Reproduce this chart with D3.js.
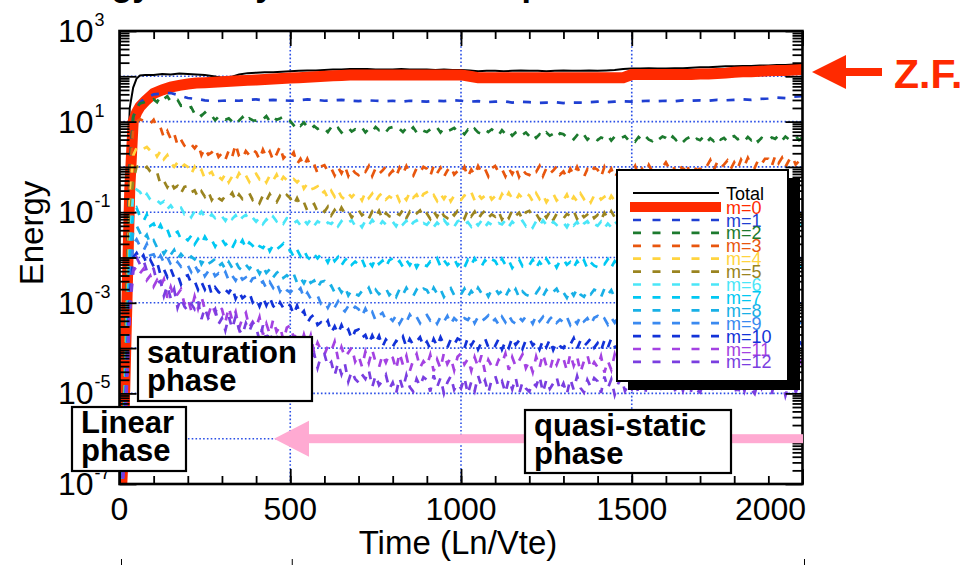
<!DOCTYPE html>
<html>
<head>
<meta charset="utf-8">
<script src="https://cdn.jsdelivr.net/npm/d3@7/dist/d3.min.js"></script>
<style>
  html, body { margin: 0; padding: 0; background: #fff; }
  svg { display: block; }
  text { font-family: "Liberation Sans", Arial, Helvetica, sans-serif; }
</style>
</head>
<body>
<svg id="chart" width="969" height="565"></svg>
<script>
// ---- sample times (Ln/Vte) ----
// smooth diagnostics (Total, m=0, m=1) are stored coarsely
const smoothTimes = [0, 10, 20, 30, 40, 50, 60, 75,
  100, 125, 150, 175, 200, 225, 250, 275, 300, 325, 350, 375, 400, 425, 450, 475,
  500, 525, 550, 575, 600, 625, 650, 675, 700, 725, 750, 775, 800, 825, 850, 875,
  900, 925, 950, 975, 1000, 1025, 1050, 1075, 1100, 1125, 1150, 1175, 1200, 1225, 1250, 1275,
  1300, 1325, 1350, 1375, 1400, 1425, 1450, 1475, 1500, 1525, 1550, 1575, 1600, 1625, 1650, 1675,
  1700, 1725, 1750, 1775, 1800, 1825, 1850, 1875, 1900, 1925, 1950, 1975, 2000];
// fluctuating modes are output every 10 Ln/Vte
const sampleTimes = d3.range(0, 2001, 10);

// ---- axis ticks ----
const xTickLabels = [0, 500, 1000, 1500, 2000];
const xGridLines = [500, 1000, 1500];
const yLabelExponents = [3, 1, -1, -3, -5, -7];
const yGridExponents = [2, 1, 0, -1, -2, -3, -4, -5, -6];

// ---- series (log10 of energy) ----
const seriesNames = ["Total", "m=0", "m=1", "m=2", "m=3", "m=4", "m=5", "m=6", "m=7", "m=8", "m=9", "m=10", "m=11", "m=12"];
const seriesColors = ["#000000", "#ff2a00", "#1f3fd2", "#1c7a2e", "#e8560e", "#ffd43f", "#9a8420",
  "#4ae6f8", "#00c8f2", "#18b0e6", "#3a8af0", "#1232d8", "#a442e2", "#7a3ee0"];

const logTotal = [-7.5, -5.0, -1.0, 1.3, 1.75, 1.95, 2.02, 2.03,
  2.03, 2.05, 2.04, 2.06, 2.05, 2.04, 2.03, 2.0, 1.97, 1.98, 2.04, 2.07, 2.08, 2.09, 2.09, 2.1,
  2.11, 2.12, 2.13, 2.13, 2.14, 2.15, 2.15, 2.16, 2.16, 2.16, 2.15, 2.15, 2.15, 2.16, 2.15, 2.15,
  2.15, 2.14, 2.15, 2.14, 2.14, 2.13, 2.11, 2.12, 2.12, 2.11, 2.12, 2.13, 2.12, 2.12, 2.11, 2.12,
  2.13, 2.12, 2.12, 2.13, 2.12, 2.13, 2.14, 2.16, 2.17, 2.17, 2.18, 2.17, 2.17, 2.18, 2.18, 2.19,
  2.2, 2.2, 2.21, 2.22, 2.22, 2.23, 2.23, 2.24, 2.24, 2.25, 2.25, 2.26, 2.26];
const logM0 = [-8.0, -6.5, -3.5, -0.5, 1.0, 1.2, 1.33, 1.45,
  1.62, 1.7, 1.76, 1.8, 1.83, 1.85, 1.86, 1.87, 1.88, 1.89, 1.9, 1.91, 1.92, 1.93, 1.94, 1.95,
  1.96, 1.97, 1.98, 1.99, 2.0, 2.01, 2.02, 2.03, 2.03, 2.03, 2.03, 2.03, 2.03, 2.03, 2.03, 2.03,
  2.03, 2.03, 2.03, 2.03, 2.03, 2.0, 1.97, 1.97, 1.97, 1.97, 1.97, 1.97, 1.97, 1.97, 1.97, 1.97,
  1.97, 1.97, 1.97, 1.97, 1.97, 1.97, 1.97, 1.97, 2.04, 2.04, 2.04, 2.04, 2.04, 2.04, 2.04, 2.04,
  2.05, 2.05, 2.06, 2.07, 2.09, 2.1, 2.1, 2.11, 2.12, 2.13, 2.13, 2.14, 2.15];
const logM1 = [-8.0, -6.0, -3.0, 0.0, 1.1, 1.3, 1.42, 1.52,
  1.6, 1.62, 1.63, 1.58, 1.52, 1.5, 1.47, 1.45, 1.46, 1.47, 1.46, 1.48, 1.49, 1.47, 1.48, 1.47,
  1.46, 1.47, 1.49, 1.48, 1.46, 1.47, 1.48, 1.46, 1.45, 1.47, 1.46, 1.45, 1.46, 1.44, 1.46, 1.45,
  1.44, 1.46, 1.45, 1.47, 1.46, 1.44, 1.45, 1.43, 1.44, 1.45, 1.42, 1.44, 1.43, 1.41, 1.42, 1.43,
  1.41, 1.42, 1.42, 1.43, 1.44, 1.43, 1.44, 1.45, 1.44, 1.45, 1.46, 1.45, 1.46, 1.45, 1.47, 1.46,
  1.47, 1.46, 1.48, 1.47, 1.48, 1.49, 1.48, 1.5, 1.51, 1.53, 1.52, 1.55, 1.56];

const logM2 = [-8.0, -6.0, -3.0, 0.0, 1.1, 1.3, 1.4, 1.42, 1.45, 1.44,
  1.49, 1.43, 1.56, 1.5, 1.56, 1.44, 1.48, 1.48, 1.35, 1.36,
  1.29, 1.32, 1.17, 1.22, 1.13, 1.2, 1.11, 1.13, 1.03, 1.11,
  1.11, 1.04, 1.07, 1.0, 1.09, 1.02, 1.1, 0.99, 1.07, 1.03,
  1.02, 1.08, 1.05, 1.12, 1.01, 1.1, 1.04, 1.07, 1.11, 1.02,
  1.01, 0.92, 1.0, 0.91, 0.98, 0.88, 0.83, 0.9, 0.84, 0.89,
  0.85, 0.77, 0.88, 0.8, 0.86, 0.76, 0.83, 0.87, 0.78, 0.83,
  0.8, 0.87, 0.76, 0.84, 0.78, 0.88, 0.81, 0.85, 0.77, 0.86,
  0.88, 0.81, 0.84, 0.77, 0.86, 0.79, 0.87, 0.76, 0.84, 0.8,
  0.77, 0.83, 0.8, 0.87, 0.76, 0.85, 0.79, 0.82, 0.86, 0.77,
  0.79, 0.72, 0.82, 0.75, 0.84, 0.76, 0.73, 0.82, 0.77, 0.83,
  0.78, 0.7, 0.81, 0.73, 0.79, 0.69, 0.76, 0.8, 0.71, 0.76,
  0.68, 0.75, 0.64, 0.72, 0.66, 0.76, 0.69, 0.73, 0.65, 0.74,
  0.72, 0.65, 0.68, 0.61, 0.7, 0.63, 0.71, 0.6, 0.68, 0.64,
  0.59, 0.65, 0.62, 0.69, 0.58, 0.67, 0.61, 0.64, 0.68, 0.59,
  0.63, 0.56, 0.66, 0.59, 0.68, 0.6, 0.57, 0.66, 0.61, 0.67,
  0.64, 0.56, 0.67, 0.59, 0.65, 0.55, 0.62, 0.66, 0.57, 0.62,
  0.59, 0.66, 0.55, 0.63, 0.57, 0.67, 0.6, 0.64, 0.56, 0.65,
  0.68, 0.61, 0.64, 0.57, 0.66, 0.59, 0.67, 0.56, 0.64, 0.6,
  0.59, 0.65, 0.62, 0.69, 0.58, 0.67, 0.61, 0.64, 0.68, 0.59,
  0.65];
const logM3 = [-8.0, -6.0, -3.2, -0.3, 0.85, 1.0, 1.05, 1.02, 0.98, 0.95,
  1.04, 0.86, 0.87, 0.65, 0.79, 0.62, 0.74, 0.48, 0.6, 0.47,
  0.42, 0.5, 0.41, 0.51, 0.26, 0.41, 0.27, 0.32, 0.41, 0.22,
  0.3, 0.16, 0.36, 0.22, 0.5, 0.24, 0.18, 0.35, 0.26, 0.38,
  0.32, 0.16, 0.38, 0.22, 0.34, 0.14, 0.28, 0.45, 0.19, 0.27,
  0.21, 0.32, 0.06, 0.18, 0.02, 0.18, 0.01, 0.06, -0.14, 0.01,
  0.04, -0.1, -0.03, -0.19, -0.01, -0.14, 0.02, -0.2, -0.04, -0.13,
  -0.18, -0.06, -0.11, 0.02, -0.2, -0.03, -0.15, -0.08, 0.01, -0.17,
  -0.08, -0.22, -0.02, -0.16, 0.02, -0.14, -0.2, -0.03, -0.12, 0.0,
  -0.04, -0.2, 0.02, -0.14, -0.02, -0.22, -0.08, 0.01, -0.17, -0.09,
  -0.15, 0.0, -0.22, -0.06, -0.18, 0.02, -0.12, -0.04, -0.21, -0.03,
  0.02, -0.12, -0.05, -0.21, -0.03, -0.16, 0.0, -0.22, -0.06, -0.15,
  -0.18, -0.06, -0.11, 0.02, -0.2, -0.03, -0.15, -0.08, 0.01, -0.17,
  -0.1, -0.24, -0.04, -0.18, 0.0, -0.16, -0.22, -0.05, -0.14, -0.02,
  -0.06, -0.22, 0.0, -0.16, -0.04, -0.24, -0.1, -0.01, -0.19, -0.11,
  -0.13, 0.02, -0.2, -0.04, -0.16, 0.04, -0.1, -0.02, -0.19, -0.01,
  0.1, -0.04, 0.03, -0.13, 0.05, -0.08, 0.08, -0.14, 0.02, -0.07,
  -0.05, 0.07, 0.02, 0.15, -0.07, 0.1, -0.02, 0.05, 0.14, -0.04,
  0.1, -0.04, 0.16, 0.02, 0.2, 0.04, -0.02, 0.15, 0.06, 0.18,
  0.18, 0.02, 0.24, 0.08, 0.2, 0.0, 0.14, 0.23, 0.05, 0.13,
  0.22];
const logM4 = [-8.0, -6.2, -3.5, -0.8, 0.25, 0.42, 0.46, 0.4, 0.44, 0.36,
  0.38, 0.23, 0.35, 0.17, 0.26, 0.09, 0.0, 0.1, -0.02, 0.05,
  0.0, -0.16, 0.0, -0.15, -0.07, -0.26, -0.16, -0.11, -0.27, -0.21,
  -0.28, -0.16, -0.34, -0.21, -0.31, -0.14, -0.26, -0.19, -0.33, -0.18,
  -0.15, -0.27, -0.21, -0.34, -0.19, -0.3, -0.17, -0.35, -0.22, -0.29,
  -0.34, -0.27, -0.34, -0.26, -0.48, -0.37, -0.5, -0.47, -0.43, -0.6,
  -0.54, -0.68, -0.53, -0.66, -0.52, -0.66, -0.72, -0.59, -0.67, -0.58,
  -0.61, -0.74, -0.56, -0.69, -0.59, -0.76, -0.64, -0.57, -0.72, -0.65,
  -0.7, -0.58, -0.76, -0.63, -0.73, -0.56, -0.68, -0.61, -0.75, -0.6,
  -0.56, -0.68, -0.62, -0.75, -0.6, -0.71, -0.58, -0.76, -0.63, -0.7,
  -0.73, -0.63, -0.67, -0.56, -0.74, -0.6, -0.7, -0.64, -0.57, -0.72,
  -0.65, -0.77, -0.6, -0.72, -0.57, -0.7, -0.75, -0.61, -0.69, -0.59,
  -0.63, -0.76, -0.58, -0.71, -0.61, -0.78, -0.66, -0.59, -0.74, -0.67,
  -0.73, -0.61, -0.79, -0.66, -0.76, -0.59, -0.71, -0.64, -0.78, -0.63,
  -0.6, -0.72, -0.66, -0.79, -0.64, -0.75, -0.62, -0.8, -0.67, -0.74,
  -0.81, -0.71, -0.75, -0.64, -0.82, -0.68, -0.78, -0.72, -0.65, -0.8,
  -0.72, -0.84, -0.67, -0.79, -0.64, -0.77, -0.82, -0.68, -0.76, -0.66,
  -0.69, -0.82, -0.64, -0.77, -0.67, -0.84, -0.72, -0.65, -0.8, -0.73,
  -0.78, -0.66, -0.84, -0.71, -0.81, -0.64, -0.76, -0.69, -0.83, -0.68,
  -0.63, -0.75, -0.69, -0.82, -0.67, -0.78, -0.65, -0.83, -0.7, -0.77,
  -0.72];
const logM5 = [-8.0, -6.3, -3.7, -1.2, -0.3, 0.0, 0.02, -0.06, 0.0, -0.1,
  -0.16, -0.12, -0.38, -0.31, -0.45, -0.32, -0.47, -0.42, -0.58, -0.44,
  -0.42, -0.56, -0.52, -0.67, -0.54, -0.66, -0.54, -0.73, -0.61, -0.69,
  -0.74, -0.64, -0.68, -0.57, -0.75, -0.61, -0.71, -0.65, -0.58, -0.73,
  -0.68, -0.8, -0.63, -0.75, -0.6, -0.73, -0.78, -0.64, -0.72, -0.62,
  -0.69, -0.84, -0.69, -0.85, -0.78, -0.97, -0.87, -0.82, -0.99, -0.93,
  -0.99, -0.88, -1.07, -0.95, -1.06, -0.9, -1.03, -0.97, -1.12, -0.98,
  -0.95, -1.07, -1.01, -1.14, -0.99, -1.1, -0.97, -1.15, -1.02, -1.09,
  -1.12, -1.02, -1.06, -0.95, -1.13, -0.99, -1.09, -1.03, -0.96, -1.11,
  -1.03, -1.15, -0.98, -1.1, -0.95, -1.08, -1.13, -0.99, -1.07, -0.97,
  -1.01, -1.14, -0.96, -1.09, -0.99, -1.16, -1.04, -0.97, -1.12, -1.05,
  -1.1, -0.98, -1.16, -1.03, -1.13, -0.96, -1.08, -1.01, -1.15, -1.0,
  -0.97, -1.09, -1.03, -1.16, -1.01, -1.12, -0.99, -1.17, -1.04, -1.11,
  -1.14, -1.04, -1.08, -0.97, -1.15, -1.01, -1.11, -1.05, -0.98, -1.13,
  -1.06, -1.18, -1.01, -1.13, -0.98, -1.11, -1.16, -1.02, -1.1, -1.0,
  -1.05, -1.18, -1.0, -1.13, -1.03, -1.2, -1.08, -1.01, -1.16, -1.09,
  -1.14, -1.02, -1.2, -1.07, -1.17, -1.0, -1.12, -1.05, -1.19, -1.04,
  -1.0, -1.12, -1.06, -1.19, -1.04, -1.15, -1.02, -1.2, -1.07, -1.14,
  -1.17, -1.07, -1.11, -1.0, -1.18, -1.04, -1.14, -1.08, -1.01, -1.16,
  -1.08, -1.2, -1.03, -1.15, -1.0, -1.13, -1.18, -1.04, -1.12, -1.02,
  -1.1];
const logM6 = [-8.0, -6.5, -4.0, -1.7, -0.6, -0.5, -0.55, -0.7, -0.6, -0.72,
  -0.78, -0.74, -0.81, -0.76, -0.93, -0.85, -0.96, -0.93, -0.9, -1.04,
  -0.99, -1.11, -0.98, -1.1, -0.99, -1.1, -1.15, -1.05, -1.13, -1.05,
  -1.09, -1.19, -1.05, -1.15, -1.07, -1.21, -1.11, -1.06, -1.18, -1.12,
  -1.21, -1.12, -1.26, -1.16, -1.24, -1.1, -1.2, -1.14, -1.25, -1.13,
  -1.14, -1.24, -1.19, -1.29, -1.17, -1.26, -1.16, -1.3, -1.2, -1.25,
  -1.31, -1.23, -1.26, -1.17, -1.31, -1.2, -1.28, -1.23, -1.18, -1.3,
  -1.23, -1.33, -1.19, -1.29, -1.17, -1.27, -1.31, -1.2, -1.27, -1.19,
  -1.21, -1.31, -1.17, -1.27, -1.19, -1.33, -1.23, -1.18, -1.3, -1.24,
  -1.28, -1.19, -1.33, -1.23, -1.31, -1.17, -1.27, -1.21, -1.32, -1.2,
  -1.17, -1.27, -1.22, -1.32, -1.2, -1.29, -1.19, -1.33, -1.23, -1.28,
  -1.32, -1.24, -1.27, -1.18, -1.32, -1.21, -1.29, -1.24, -1.19, -1.31,
  -1.24, -1.34, -1.2, -1.3, -1.18, -1.28, -1.32, -1.21, -1.28, -1.2,
  -1.23, -1.33, -1.19, -1.29, -1.21, -1.35, -1.25, -1.2, -1.32, -1.26,
  -1.3, -1.21, -1.35, -1.25, -1.33, -1.19, -1.29, -1.23, -1.34, -1.22,
  -1.2, -1.3, -1.25, -1.35, -1.23, -1.32, -1.22, -1.36, -1.26, -1.31,
  -1.34, -1.26, -1.29, -1.2, -1.34, -1.23, -1.31, -1.26, -1.21, -1.33,
  -1.27, -1.37, -1.23, -1.33, -1.21, -1.31, -1.35, -1.24, -1.31, -1.23,
  -1.25, -1.35, -1.21, -1.31, -1.23, -1.37, -1.27, -1.22, -1.34, -1.28,
  -1.33, -1.24, -1.38, -1.28, -1.36, -1.22, -1.32, -1.26, -1.37, -1.25,
  -1.3];
const logM7 = [-8.0, -6.5, -4.2, -2.0, -1.0, -0.9, -1.1, -1.2, -1.05, -1.3,
  -1.25, -1.42, -1.28, -1.45, -1.38, -1.58, -1.48, -1.43, -1.6, -1.55,
  -1.62, -1.52, -1.71, -1.59, -1.7, -1.54, -1.67, -1.61, -1.76, -1.62,
  -1.6, -1.72, -1.66, -1.79, -1.64, -1.75, -1.62, -1.8, -1.67, -1.74,
  -1.85, -1.75, -1.79, -1.68, -1.86, -1.72, -1.82, -1.76, -1.69, -1.84,
  -1.84, -1.98, -1.83, -1.97, -1.84, -1.99, -2.06, -1.93, -2.02, -1.93,
  -1.97, -2.11, -1.94, -2.08, -1.99, -2.17, -2.06, -2.0, -2.16, -2.09,
  -2.16, -2.04, -2.22, -2.09, -2.19, -2.02, -2.14, -2.07, -2.21, -2.06,
  -2.02, -2.14, -2.08, -2.21, -2.06, -2.17, -2.04, -2.22, -2.09, -2.16,
  -2.19, -2.09, -2.13, -2.02, -2.2, -2.06, -2.16, -2.1, -2.03, -2.18,
  -2.1, -2.22, -2.05, -2.17, -2.02, -2.15, -2.2, -2.06, -2.14, -2.04,
  -2.08, -2.21, -2.03, -2.16, -2.06, -2.23, -2.11, -2.04, -2.19, -2.12,
  -2.17, -2.05, -2.23, -2.1, -2.2, -2.03, -2.15, -2.08, -2.22, -2.07,
  -2.04, -2.16, -2.1, -2.23, -2.08, -2.19, -2.06, -2.24, -2.11, -2.18,
  -2.21, -2.11, -2.15, -2.04, -2.22, -2.08, -2.18, -2.12, -2.05, -2.2,
  -2.13, -2.25, -2.08, -2.2, -2.05, -2.18, -2.23, -2.09, -2.17, -2.07,
  -2.1, -2.23, -2.05, -2.18, -2.08, -2.25, -2.13, -2.06, -2.21, -2.14,
  -2.2, -2.08, -2.26, -2.13, -2.23, -2.06, -2.18, -2.11, -2.25, -2.1,
  -2.06, -2.18, -2.12, -2.25, -2.1, -2.21, -2.08, -2.26, -2.13, -2.2,
  -2.23, -2.13, -2.17, -2.06, -2.24, -2.1, -2.2, -2.14, -2.07, -2.22,
  -2.16];
const logM8 = [-8.0, -6.6, -4.4, -2.4, -1.4, -1.3, -1.45, -1.6, -1.5, -1.7,
  -1.62, -1.78, -1.76, -1.92, -1.8, -1.94, -1.83, -2.03, -1.92, -2.01,
  -2.06, -1.98, -2.04, -1.95, -2.15, -2.03, -2.14, -2.09, -2.03, -2.19,
  -2.13, -2.26, -2.1, -2.23, -2.09, -2.23, -2.29, -2.16, -2.25, -2.16,
  -2.22, -2.36, -2.2, -2.34, -2.26, -2.44, -2.34, -2.28, -2.45, -2.39,
  -2.46, -2.36, -2.56, -2.45, -2.57, -2.42, -2.56, -2.51, -2.67, -2.54,
  -2.52, -2.66, -2.62, -2.77, -2.64, -2.77, -2.65, -2.84, -2.72, -2.8,
  -2.84, -2.74, -2.78, -2.67, -2.85, -2.71, -2.81, -2.75, -2.68, -2.83,
  -2.75, -2.87, -2.7, -2.82, -2.67, -2.8, -2.85, -2.71, -2.79, -2.69,
  -2.72, -2.85, -2.67, -2.8, -2.7, -2.87, -2.75, -2.68, -2.83, -2.76,
  -2.81, -2.69, -2.87, -2.74, -2.84, -2.67, -2.79, -2.72, -2.86, -2.71,
  -2.68, -2.8, -2.74, -2.87, -2.72, -2.83, -2.7, -2.88, -2.75, -2.82,
  -2.85, -2.75, -2.79, -2.68, -2.86, -2.72, -2.82, -2.76, -2.69, -2.84,
  -2.77, -2.89, -2.72, -2.84, -2.69, -2.82, -2.87, -2.73, -2.81, -2.71,
  -2.74, -2.87, -2.69, -2.82, -2.72, -2.89, -2.77, -2.7, -2.85, -2.78,
  -2.84, -2.72, -2.9, -2.77, -2.87, -2.7, -2.82, -2.75, -2.89, -2.74,
  -2.7, -2.82, -2.76, -2.89, -2.74, -2.85, -2.72, -2.9, -2.77, -2.84,
  -2.88, -2.78, -2.82, -2.71, -2.89, -2.75, -2.85, -2.79, -2.72, -2.87,
  -2.79, -2.91, -2.74, -2.86, -2.71, -2.84, -2.89, -2.75, -2.83, -2.73,
  -2.77, -2.9, -2.72, -2.85, -2.75, -2.92, -2.8, -2.73, -2.88, -2.81,
  -2.82];
const logM9 = [-8.0, -6.7, -4.6, -2.6, -1.7, -1.6, -1.75, -1.85, -1.7, -1.95,
  -1.93, -2.09, -1.96, -2.11, -1.99, -2.15, -2.22, -2.1, -2.2, -2.12,
  -2.17, -2.32, -2.16, -2.31, -2.23, -2.41, -2.3, -2.25, -2.41, -2.35,
  -2.42, -2.32, -2.51, -2.4, -2.51, -2.36, -2.49, -2.44, -2.59, -2.46,
  -2.44, -2.58, -2.53, -2.68, -2.54, -2.67, -2.55, -2.75, -2.63, -2.72,
  -2.77, -2.69, -2.76, -2.68, -2.89, -2.78, -2.91, -2.88, -2.84, -3.02,
  -2.97, -3.11, -2.96, -3.1, -2.97, -3.12, -3.19, -3.07, -3.17, -3.09,
  -3.14, -3.29, -3.13, -3.28, -3.2, -3.39, -3.28, -3.22, -3.38, -3.32,
  -3.4, -3.28, -3.46, -3.33, -3.43, -3.26, -3.38, -3.31, -3.45, -3.3,
  -3.27, -3.39, -3.33, -3.46, -3.31, -3.42, -3.29, -3.47, -3.34, -3.41,
  -3.44, -3.34, -3.38, -3.27, -3.45, -3.31, -3.41, -3.35, -3.28, -3.43,
  -3.36, -3.48, -3.31, -3.43, -3.28, -3.41, -3.46, -3.32, -3.4, -3.3,
  -3.33, -3.46, -3.28, -3.41, -3.31, -3.48, -3.36, -3.29, -3.44, -3.37,
  -3.43, -3.31, -3.49, -3.36, -3.46, -3.29, -3.41, -3.34, -3.48, -3.33,
  -3.29, -3.41, -3.35, -3.48, -3.33, -3.44, -3.31, -3.49, -3.36, -3.43,
  -3.47, -3.37, -3.41, -3.3, -3.48, -3.34, -3.44, -3.38, -3.31, -3.46,
  -3.38, -3.5, -3.33, -3.45, -3.3, -3.43, -3.48, -3.34, -3.42, -3.32,
  -3.36, -3.49, -3.31, -3.44, -3.34, -3.51, -3.39, -3.32, -3.47, -3.4,
  -3.45, -3.33, -3.51, -3.38, -3.48, -3.31, -3.43, -3.36, -3.5, -3.35,
  -3.32, -3.44, -3.38, -3.51, -3.36, -3.47, -3.34, -3.52, -3.39, -3.46,
  -3.42];
const logM10 = [-8.0, -6.8, -4.8, -2.9, -2.0, -1.9, -2.05, -1.95, -2.15, -2.05,
  -2.2, -2.1, -2.38, -2.26, -2.43, -2.25, -2.44, -2.37, -2.59, -2.42,
  -2.39, -2.57, -2.52, -2.71, -2.54, -2.71, -2.56, -2.81, -2.66, -2.76,
  -2.82, -2.71, -2.78, -2.66, -2.91, -2.75, -2.9, -2.84, -2.77, -2.99,
  -2.9, -3.08, -2.88, -3.06, -2.88, -3.07, -3.15, -2.99, -3.12, -3.01,
  -3.06, -3.26, -3.06, -3.27, -3.18, -3.44, -3.32, -3.26, -3.49, -3.43,
  -3.52, -3.4, -3.66, -3.52, -3.68, -3.49, -3.67, -3.59, -3.8, -3.62,
  -3.59, -3.77, -3.71, -3.9, -3.72, -3.89, -3.73, -3.97, -3.81, -3.91,
  -3.97, -3.84, -3.89, -3.75, -3.98, -3.8, -3.93, -3.85, -3.76, -3.96,
  -3.86, -4.02, -3.8, -3.96, -3.76, -3.93, -3.99, -3.81, -3.92, -3.79,
  -3.83, -4.0, -3.77, -3.94, -3.81, -4.03, -3.87, -3.78, -3.98, -3.89,
  -3.95, -3.8, -4.03, -3.86, -3.99, -3.77, -3.93, -3.83, -4.02, -3.82,
  -3.78, -3.94, -3.86, -4.03, -3.83, -3.98, -3.81, -4.04, -3.87, -3.96,
  -4.0, -3.87, -3.92, -3.78, -4.01, -3.83, -3.96, -3.88, -3.79, -3.99,
  -3.89, -4.05, -3.83, -3.99, -3.79, -3.96, -4.02, -3.84, -3.95, -3.82,
  -3.85, -4.02, -3.79, -3.96, -3.83, -4.05, -3.89, -3.8, -4.0, -3.91,
  -3.98, -3.83, -4.06, -3.89, -4.02, -3.8, -3.96, -3.86, -4.05, -3.85,
  -3.8, -3.96, -3.88, -4.05, -3.85, -4.0, -3.83, -4.06, -3.89, -3.98,
  -4.03, -3.9, -3.95, -3.81, -4.04, -3.86, -3.99, -3.91, -3.82, -4.02,
  -3.91, -4.07, -3.85, -4.01, -3.81, -3.98, -4.04, -3.86, -3.97, -3.84,
  -3.95];
const logM11 = [-8.0, -6.9, -5.0, -3.1, -2.3, -2.2, -2.35, -2.25, -2.5, -2.4,
  -2.64, -2.5, -2.64, -2.48, -2.89, -2.65, -2.89, -2.81, -2.7, -3.03,
  -2.9, -3.17, -2.86, -3.13, -2.86, -3.15, -3.28, -3.03, -3.22, -3.05,
  -3.14, -3.43, -3.1, -3.38, -3.2, -3.56, -3.34, -3.22, -3.54, -3.42,
  -3.54, -3.32, -3.7, -3.46, -3.69, -3.37, -3.64, -3.52, -3.83, -3.55,
  -3.5, -3.77, -3.68, -3.97, -3.7, -3.95, -3.72, -4.11, -3.88, -4.05,
  -4.14, -3.96, -4.06, -3.86, -4.24, -3.98, -4.2, -4.1, -3.98, -4.3,
  -4.16, -4.41, -4.08, -4.33, -4.04, -4.31, -4.42, -4.15, -4.32, -4.13,
  -4.21, -4.47, -4.11, -4.37, -4.17, -4.51, -4.27, -4.13, -4.43, -4.29,
  -4.39, -4.15, -4.51, -4.25, -4.45, -4.11, -4.35, -4.21, -4.49, -4.19,
  -4.12, -4.36, -4.24, -4.5, -4.2, -4.42, -4.16, -4.52, -4.26, -4.4,
  -4.46, -4.26, -4.34, -4.12, -4.48, -4.2, -4.4, -4.28, -4.14, -4.44,
  -4.29, -4.53, -4.19, -4.43, -4.13, -4.39, -4.49, -4.21, -4.37, -4.17,
  -4.23, -4.49, -4.13, -4.39, -4.19, -4.53, -4.29, -4.15, -4.45, -4.31,
  -4.42, -4.18, -4.54, -4.28, -4.48, -4.14, -4.38, -4.24, -4.52, -4.22,
  -4.14, -4.38, -4.26, -4.52, -4.22, -4.44, -4.18, -4.54, -4.28, -4.42,
  -4.49, -4.29, -4.37, -4.15, -4.51, -4.23, -4.43, -4.31, -4.17, -4.47,
  -4.31, -4.55, -4.21, -4.45, -4.15, -4.41, -4.51, -4.23, -4.39, -4.19,
  -4.26, -4.52, -4.16, -4.42, -4.22, -4.56, -4.32, -4.18, -4.48, -4.34,
  -4.44, -4.2, -4.56, -4.3, -4.5, -4.16, -4.4, -4.26, -4.54, -4.24,
  -4.38];
const logM12 = [-8.0, -7.0, -5.2, -3.3, -2.3, -2.0, -2.15, -2.05, -2.3, -2.2,
  -2.25, -2.56, -2.52, -2.85, -2.62, -2.9, -2.7, -3.11, -2.9, -3.08,
  -3.18, -3.02, -3.14, -2.96, -3.36, -3.11, -3.34, -3.25, -3.14, -3.47,
  -3.34, -3.61, -3.3, -3.57, -3.3, -3.59, -3.71, -3.45, -3.63, -3.45,
  -3.54, -3.83, -3.5, -3.79, -3.62, -3.99, -3.78, -3.67, -4.0, -3.89,
  -4.02, -3.82, -4.22, -4.0, -4.24, -3.94, -4.22, -4.12, -4.44, -4.18,
  -4.13, -4.4, -4.31, -4.6, -4.33, -4.58, -4.35, -4.74, -4.51, -4.68,
  -4.76, -4.58, -4.68, -4.48, -4.86, -4.6, -4.82, -4.72, -4.59, -4.9,
  -4.76, -5.0, -4.66, -4.9, -4.6, -4.86, -4.96, -4.68, -4.84, -4.64,
  -4.7, -4.96, -4.6, -4.86, -4.66, -5.0, -4.76, -4.62, -4.92, -4.78,
  -4.89, -4.65, -5.01, -4.75, -4.95, -4.61, -4.85, -4.71, -4.99, -4.69,
  -4.61, -4.85, -4.73, -4.99, -4.69, -4.91, -4.65, -5.01, -4.75, -4.89,
  -4.96, -4.76, -4.84, -4.62, -4.98, -4.7, -4.9, -4.78, -4.64, -4.94,
  -4.78, -5.02, -4.68, -4.92, -4.62, -4.88, -4.98, -4.7, -4.86, -4.66,
  -4.73, -4.99, -4.63, -4.89, -4.69, -5.03, -4.79, -4.65, -4.95, -4.81,
  -4.91, -4.67, -5.03, -4.77, -4.97, -4.63, -4.87, -4.73, -5.01, -4.71,
  -4.64, -4.88, -4.76, -5.02, -4.72, -4.94, -4.68, -5.04, -4.78, -4.92,
  -4.98, -4.78, -4.86, -4.64, -5.0, -4.72, -4.92, -4.8, -4.66, -4.96,
  -4.81, -5.05, -4.71, -4.95, -4.65, -4.91, -5.01, -4.73, -4.89, -4.69,
  -4.75, -5.01, -4.65, -4.91, -4.71, -5.05, -4.81, -4.67, -4.97, -4.83,
  -4.86];

const seriesLogs = [logTotal, logM0, logM1, logM2, logM3, logM4, logM5, logM6, logM7, logM8, logM9, logM10, logM11, logM12];
const seriesTimes = seriesLogs.map((s, k) => (k < 3 ? smoothTimes : sampleTimes));

// ---- layout ----
const plot = { left: 119.5, right: 802.5, top: 31, bottom: 484 };

const svg = d3.select("#chart");
const x = d3.scaleLinear().domain([0, 2000]).range([plot.left, plot.right]);
const y = d3.scaleLog().domain([1e-7, 1e3]).range([plot.bottom, plot.top]);

svg.append("defs").append("clipPath").attr("id", "plotClip")
  .append("rect")
  .attr("x", plot.left).attr("y", plot.top)
  .attr("width", plot.right - plot.left).attr("height", plot.bottom - plot.top);

// title (runs off the top edge of the panel)
svg.append("text")
  .attr("x", 36).attr("y", -4)
  .attr("font-size", 34).attr("font-weight", "bold")
  .text("Energy history of each m component");

// ---- dotted grid ----
const grid = svg.append("g").attr("stroke", "#2b4fe6").attr("stroke-width", 1.6)
  .attr("stroke-dasharray", "1.6,2.2");
grid.selectAll("line.gx").data(xGridLines).join("line")
  .attr("x1", d => x(d)).attr("x2", d => x(d))
  .attr("y1", plot.top).attr("y2", plot.bottom);
grid.selectAll("line.gy").data(yGridExponents).join("line")
  .attr("x1", plot.left).attr("x2", plot.right)
  .attr("y1", d => y(Math.pow(10, d))).attr("y2", d => y(Math.pow(10, d)));

// ---- series ----
const lines = svg.append("g").attr("clip-path", "url(#plotClip)");
seriesLogs.forEach((vals, k) => {
  const ts = seriesTimes[k];
  const line = d3.line()
    .x((d, i) => x(ts[i]))
    .y(d => y(Math.pow(10, d)));
  const p = lines.append("path")
    .attr("d", line(vals))
    .attr("fill", "none")
    .attr("stroke", seriesColors[k])
    .attr("stroke-linejoin", "miter");
  if (k === 0) p.attr("stroke-width", 2);
  else if (k === 1) p.attr("stroke-width", 11);
  else p.attr("stroke-width", 2.7).attr("stroke-dasharray", "8,9");
});

// ---- axes (ticks point inward on all four sides) ----
const minorX = d3.range(0, 2001, 100);
const minorY = [];
for (let e = -7; e < 3; e++) for (let m = 2; m <= 9; m++) minorY.push(m * Math.pow(10, e));
const majorY = d3.range(-7, 4).map(e => Math.pow(10, e));

function styleAxis(g) {
  g.select(".domain").remove();
  g.selectAll(".tick line").attr("stroke", "#000").attr("stroke-width", 1.8);
}
svg.append("g").attr("transform", `translate(0,${plot.bottom})`)
  .call(d3.axisBottom(x).tickValues(minorX).tickSize(-8).tickFormat("")).call(styleAxis);
svg.append("g").attr("transform", `translate(0,${plot.bottom})`)
  .call(d3.axisBottom(x).tickValues(xTickLabels).tickSize(-15).tickFormat("")).call(styleAxis);
svg.append("g").attr("transform", `translate(0,${plot.top})`)
  .call(d3.axisTop(x).tickValues(minorX).tickSize(-8).tickFormat("")).call(styleAxis);
svg.append("g").attr("transform", `translate(0,${plot.top})`)
  .call(d3.axisTop(x).tickValues(xTickLabels).tickSize(-15).tickFormat("")).call(styleAxis);
svg.append("g").attr("transform", `translate(${plot.left},0)`)
  .call(d3.axisLeft(y).tickValues(minorY).tickSize(-10).tickFormat("")).call(styleAxis);
svg.append("g").attr("transform", `translate(${plot.left},0)`)
  .call(d3.axisLeft(y).tickValues(majorY).tickSize(-17).tickFormat("")).call(styleAxis);
svg.append("g").attr("transform", `translate(${plot.right},0)`)
  .call(d3.axisRight(y).tickValues(minorY).tickSize(-10).tickFormat("")).call(styleAxis);
svg.append("g").attr("transform", `translate(${plot.right},0)`)
  .call(d3.axisRight(y).tickValues(majorY).tickSize(-17).tickFormat("")).call(styleAxis);

svg.append("rect")
  .attr("x", plot.left).attr("y", plot.top)
  .attr("width", plot.right - plot.left).attr("height", plot.bottom - plot.top)
  .attr("fill", "none").attr("stroke", "#000").attr("stroke-width", 2.6);

// x tick labels
svg.append("g").selectAll("text").data(xTickLabels).join("text")
  .attr("x", d => x(d) + (d === 2000 ? -32 : 0))
  .attr("y", 520)
  .attr("text-anchor", "middle")
  .attr("font-size", 32)
  .text(d => d);

// y tick labels as 10^n
const yl = svg.append("g").selectAll("text").data(yLabelExponents).join("text")
  .attr("x", 58)
  .attr("y", d => y(Math.pow(10, d)) + 11)
  .attr("font-size", 32);
yl.append("tspan").text("10");
yl.append("tspan").attr("font-size", 18).attr("dx", 1).attr("dy", -16)
  .text(d => (d < 0 ? "-" : "") + Math.abs(d));

// axis titles
svg.append("text")
  .attr("transform", "translate(43,233) rotate(-90)")
  .attr("text-anchor", "middle").attr("font-size", 33)
  .text("Energy");
svg.append("text")
  .attr("x", 458).attr("y", 554)
  .attr("text-anchor", "middle").attr("font-size", 33)
  .text("Time (Ln/Vte)");

// top ticks of the panel below
svg.append("g").selectAll("line").data([0, 500, 2000]).join("line")
  .attr("x1", d => x(d) + 2).attr("x2", d => x(d) + 2)
  .attr("y1", 559).attr("y2", 565)
  .attr("stroke", "#000").attr("stroke-width", 1);

// ---- phase annotations ----
const pinkY = y(1e-6);
svg.append("rect").attr("x", 300).attr("y", pinkY - 4.5).attr("width", 503).attr("height", 9)
  .attr("fill", "#ffaad2");
svg.append("path")
  .attr("d", `M274,${pinkY} L309,${pinkY - 18} L309,${pinkY + 18} Z`)
  .attr("fill", "#ffaad2");

function phaseBox(x0, y0, w, h, lines) {
  const g = svg.append("g");
  g.append("rect").attr("x", x0).attr("y", y0).attr("width", w).attr("height", h)
    .attr("fill", "#fff").attr("stroke", "#000").attr("stroke-width", 2.2);
  lines.forEach((t, i) => {
    g.append("text").attr("x", x0 + 9).attr("y", y0 + 26 + i * 28)
      .attr("font-size", 31).attr("font-weight", "bold").text(t);
  });
}
phaseBox(138, 337, 174, 64, ["saturation", "phase"]);
phaseBox(72, 407, 114, 64, ["Linear", "phase"]);
phaseBox(525, 410, 206, 63, ["quasi-static", "phase"]);

// ---- zonal flow marker ----
svg.append("path")
  .attr("d", "M812,72 L846,55 L846,68 L882,68 L882,76 L846,76 L846,89 Z")
  .attr("fill", "#ff2a00");
svg.append("text").attr("x", 894).attr("y", 88)
  .attr("font-size", 41).attr("font-weight", "bold").attr("fill", "#ff2a00")
  .text("Z.F.");

// ---- legend ----
const lg = svg.append("g");
lg.append("rect").attr("x", 628).attr("y", 178).attr("width", 172).attr("height", 212).attr("fill", "#000");
lg.append("rect").attr("x", 617).attr("y", 170).attr("width", 171).attr("height", 211)
  .attr("fill", "#fff").attr("stroke", "#000").attr("stroke-width", 2);
const rowY = k => (k === 0 ? 193 : k === 1 ? 207 : 220 + 12.9 * (k - 2));
seriesNames.forEach((name, k) => {
  const ly = rowY(k);
  const l = lg.append("line").attr("x1", 633).attr("x2", 719).attr("y1", ly).attr("y2", ly)
    .attr("stroke", seriesColors[k]);
  if (k === 0) l.attr("stroke-width", 2);
  else if (k === 1) l.attr("x1", 630).attr("x2", 721).attr("stroke-width", 10);
  else l.attr("stroke-width", 2.7).attr("stroke-dasharray", "8,11.5");
  lg.append("text").attr("x", 726).attr("y", ly + 6.5)
    .attr("font-size", 18).attr("fill", seriesColors[k]).text(name);
});
</script>
</body>
</html>
